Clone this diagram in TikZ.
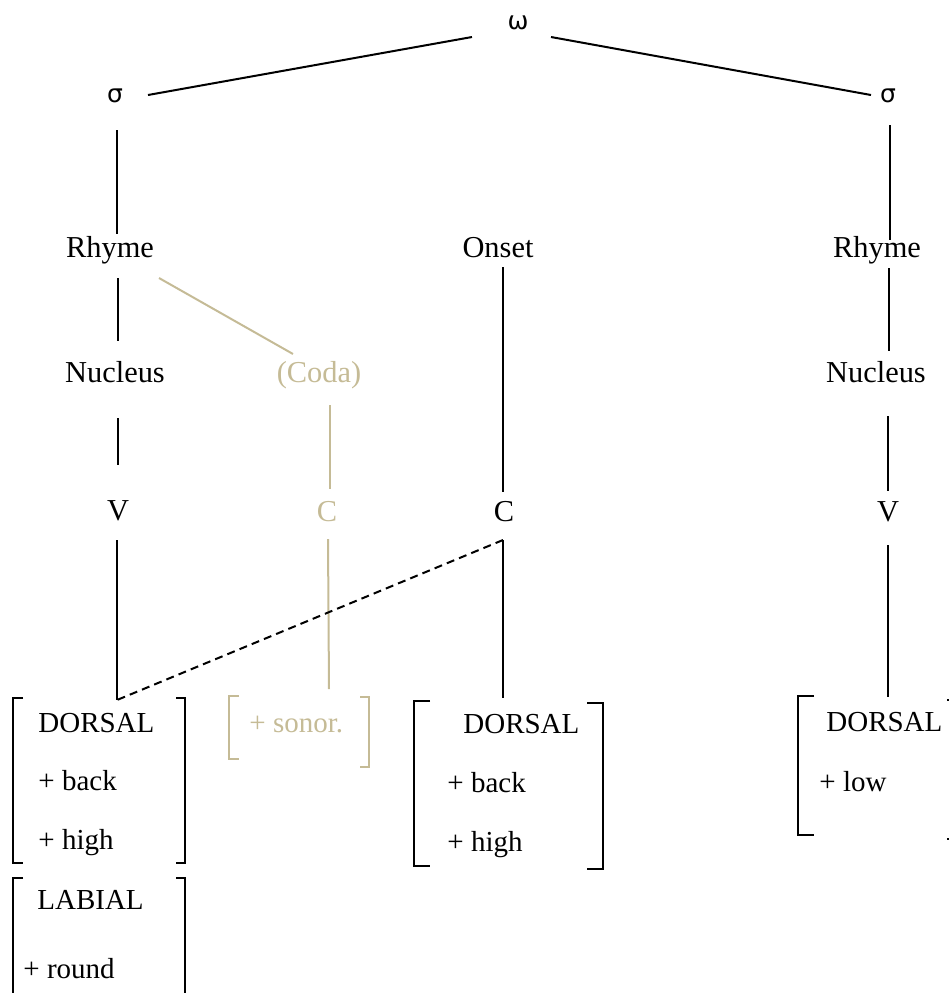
\documentclass[tikz,border=0pt]{standalone}
\usepackage{fontspec}
\setmainfont{Liberation Serif}
\newfontfamily\grkfont{DejaVu Sans}
\usetikzlibrary{calc}
\definecolor{codatan}{RGB}{197,187,150}
\begin{document}
\begin{tikzpicture}[x=0.5pt,y=-0.5pt,
  lbl/.style={anchor=base,inner sep=0pt,font=\fontsize{15.2}{18}\selectfont},
  feat/.style={anchor=base west,inner sep=0pt,font=\fontsize{14.5}{17}\selectfont},
  gk/.style={anchor=base,inner sep=0pt,font=\grkfont\fontsize{12.5}{14}\selectfont},
  edge/.style={line width=1pt},
  brk/.style={line width=1pt},
  dashlink/.style={line width=1pt,dash pattern=on 4pt off 2.6pt}]
\useasboundingbox (0,0) rectangle (949,993);
\clip (0,0) rectangle (949,993);

% tree nodes
\node[gk] (om) at (518,29) {ω};
\node[gk] (sL) at (115,102) {σ};
\node[gk] (sR) at (888,102) {σ};
\node[lbl] (rL) at (110,257) {Rhyme};
\node[lbl] (on) at (498,257) {Onset};
\node[lbl] (rR) at (877,257) {Rhyme};
\node[lbl] (nL) at (115,382) {Nucleus};
\node[lbl,text=codatan] (coda) at (319,382) {(Coda)};
\node[lbl] (nR) at (876,382) {Nucleus};
\node[lbl] (vL) at (118,520) {V};
\node[lbl,text=codatan] (cT) at (327,521) {C};
\node[lbl] (cM) at (504,521) {C};
\node[lbl] (vR) at (888,521) {V};

% feature matrices
\node[feat] (dL) at (38,732) {DORSAL};
\node[feat] (bL) at (38,790) {+ back};
\node[feat] (hL) at (38,849) {+ high};
\node[feat] (lab) at (37,909) {LABIAL};
\node[feat] (rnd) at (23,978) {+ round};
\node[feat,text=codatan] (son) at (249,732) {+ sonor.};
\node[feat] (dM) at (463,733) {DORSAL};
\node[feat] (bM) at (447,792) {+ back};
\node[feat] (hM) at (447,851) {+ high};
\node[feat] (dR) at (826,731) {DORSAL};
\node[feat] (lw) at (819,791) {+ low};

\coordinate (tL) at (117,700);
\coordinate (tS) at (329,689);
\coordinate (tM) at (503,698);
\coordinate (tR) at (888,697);

% connectors
\draw[edge] ($(om.base)+(-46,8)$) -- ($(sL.base)+(33,-7)$);
\draw[edge] ($(om.base)+(33,8)$) -- ($(sR.base)+(-17,-7)$);
\draw[edge] ($(sL.base)+(2,28)$) -- ($(rL.base)+(7,-23)$);
\draw[edge] ($(sR.base)+(2,23)$) -- ($(rR.base)+(13,-17)$);
\draw[edge] ($(rL.base)+(8,21)$) -- ($(nL.base)+(3,-41)$);
\draw[edge,codatan] ($(rL.base)+(49,21)$) -- ($(coda.base)+(-26,-28)$);
\draw[edge] ($(on.base)+(5,10)$) -- ($(cM.base)+(-1,-29)$);
\draw[edge] ($(rR.base)+(12,11)$) -- ($(nR.base)+(13,-31)$);
\draw[edge] ($(nL.base)+(3,36)$) -- ($(vL.base)+(0,-55)$);
\draw[edge,codatan] ($(coda.base)+(11,23)$) -- ($(cT.base)+(3,-32)$);
\draw[edge] ($(nR.base)+(12,34)$) -- ($(vR.base)+(0,-30)$);
\draw[edge] ($(vL.base)+(-1,20)$) -- (tL);
\draw[edge,codatan] ($(cT.base)+(1,18)$) -- (tS);
\draw[edge] ($(cM.base)+(-1,19)$) -- (tM);
\draw[dashlink] ($(cM.base)+(-1,19)$) -- (tL);
\draw[edge] ($(vR.base)+(0,24)$) -- (tR);

% brackets
\draw[brk] (23,698) -- (13,698) -- (13,863) -- (23,863);
\draw[brk] (176,698) -- (185,698) -- (185,863) -- (176,863);
\draw[brk] (23,878) -- (13,878) -- (13,1010);
\draw[brk] (176,878) -- (185,878) -- (185,1010);
\draw[brk,codatan] (239,696) -- (229,696) -- (229,759) -- (239,759);
\draw[brk,codatan] (360,697) -- (369,697) -- (369,767) -- (360,767);
\draw[brk] (430,701) -- (414,701) -- (414,866) -- (430,866);
\draw[brk] (587,703) -- (603,703) -- (603,869) -- (587,869);
\draw[brk] (814,696) -- (798,696) -- (798,835) -- (814,835);
\draw[brk] (947,700) -- (963,700) -- (963,839) -- (947,839);
\end{tikzpicture}
\end{document}
